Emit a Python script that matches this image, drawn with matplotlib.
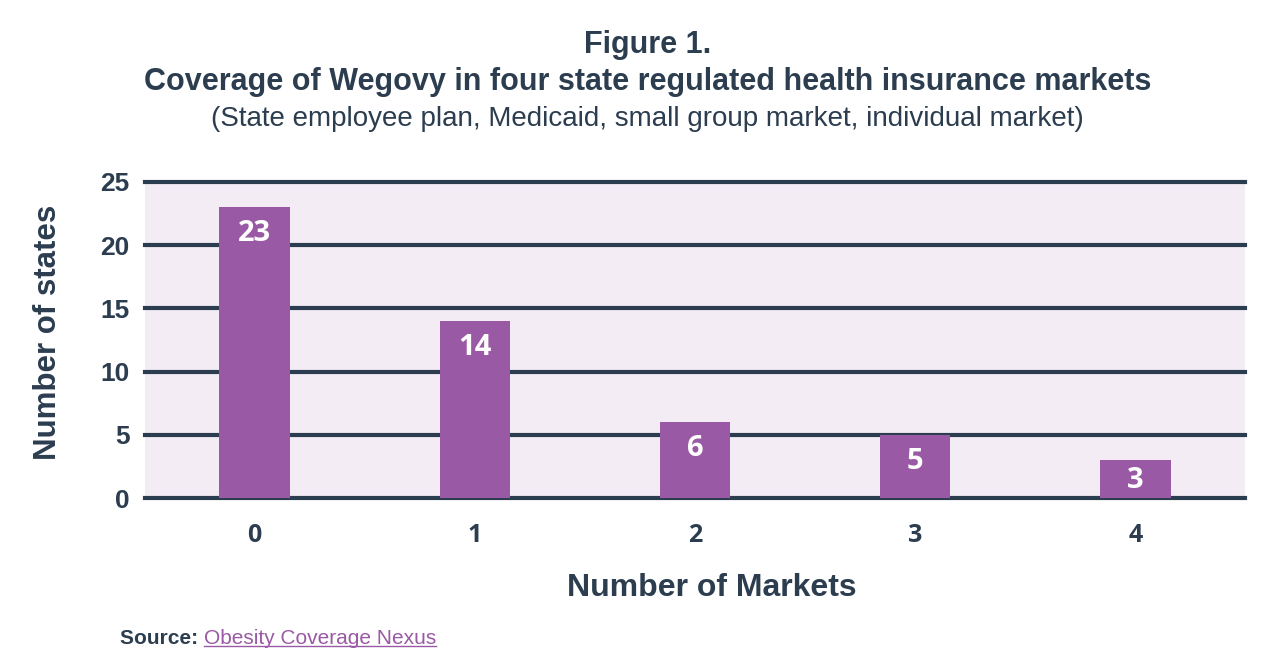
import matplotlib
matplotlib.use("Agg")
import matplotlib.pyplot as plt

markets = ["0", "1", "2", "3", "4"]
states = [23, 14, 6, 5, 3]
y_ticks = [0, 5, 10, 15, 20, 25]

DARK = "#2b3d4f"
PURPLE = "#9a59a4"
BG = "#f4ecf5"
SANS = ["Liberation Sans", "DejaVu Sans"]
OPEN = ["Open Sans", "DejaVu Sans"]

fig = plt.figure(figsize=(12.8, 6.66), dpi=100)
ax = fig.add_axes([0.113, 0.252, 0.860, 0.475])
ax.set_facecolor(BG)

x = list(range(len(markets)))
ax.bar(x, states, width=0.32, color=PURPLE, zorder=3)

for xi, v in zip(x, states):
    ypos = max(v - 2.1, v * 0.46)
    ax.text(xi, ypos, str(v), ha="center", va="center", color="white",
            fontsize=21, fontweight="bold", family=OPEN, zorder=4)

ax.set_xlim(-0.5, 4.5)
ax.set_ylim(0, 25)
ax.set_yticks(y_ticks)
ax.set_xticks(x)
ax.set_xticklabels(markets)
ax.yaxis.grid(True, color=DARK, linewidth=3, zorder=1)
for gl in ax.get_ygridlines():
    gl.set_clip_on(False)
ax.set_axisbelow(True)
for s in ax.spines.values():
    s.set_visible(False)
ax.tick_params(axis="both", length=0, colors=DARK)
ax.tick_params(axis="y", pad=11)
ax.tick_params(axis="x", pad=18)
for lab in ax.get_yticklabels():
    lab.set_fontsize(19)
    lab.set_fontweight("bold")
    lab.set_family(SANS)
    lab.set_color(DARK)
for lab in ax.get_xticklabels():
    lab.set_fontsize(18)
    lab.set_fontweight("bold")
    lab.set_family(OPEN)
    lab.set_color(DARK)

ax.set_ylabel("Number of states", fontsize=22.5, fontweight="bold", color=DARK,
              family=SANS, va="center")
ax.yaxis.set_label_coords(-0.088, 0.525)
ax.set_xlabel("Number of Markets", fontsize=23, fontweight="bold", color=DARK,
              family=SANS, va="center")
ax.xaxis.set_label_coords(0.515, -0.285)

fig.text(0.506, 0.933, "Figure 1.", ha="center", va="center", fontsize=22,
         fontweight="bold", color=DARK, family=SANS)
fig.text(0.506, 0.877, "Coverage of Wegovy in four state regulated health insurance markets",
         ha="center", va="center", fontsize=22, fontweight="bold", color=DARK, family=SANS)
fig.text(0.506, 0.822, "(State employee plan, Medicaid, small group market, individual market)",
         ha="center", va="center", fontsize=20, color=DARK, family=SANS)

t1 = fig.text(0.094, 0.042, "Source: ", ha="left", va="center", fontsize=15,
              fontweight="bold", color=DARK, family=SANS)
fig.canvas.draw()
bb = t1.get_window_extent(renderer=fig.canvas.get_renderer())
x1 = bb.x1 / fig.bbox.width
t2 = fig.text(x1, 0.042, "Obesity Coverage Nexus", ha="left", va="center", fontsize=15,
              color="#9a59a4", family=SANS)
fig.canvas.draw()
bb2 = t2.get_window_extent(renderer=fig.canvas.get_renderer())
fig.add_artist(plt.Line2D([bb2.x0 / fig.bbox.width, bb2.x1 / fig.bbox.width],
                          [bb2.y0 / fig.bbox.height + 0.002] * 2,
                          transform=fig.transFigure, color="#9a59a4", linewidth=1))

fig.savefig("out.png", dpi=100, facecolor="white")
